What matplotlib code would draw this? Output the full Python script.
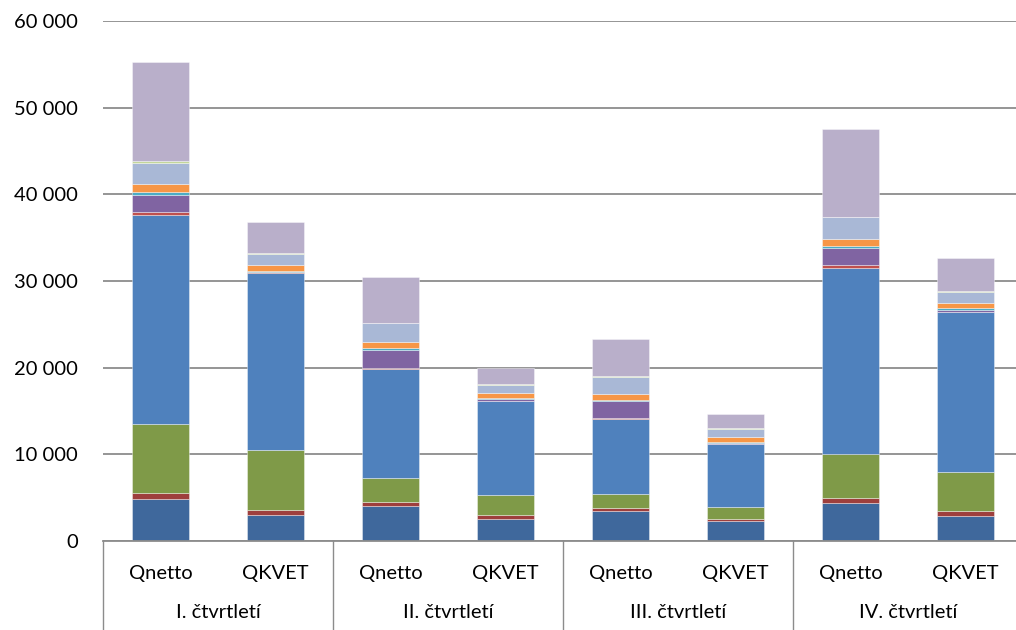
import matplotlib
matplotlib.use("Agg")
import matplotlib.pyplot as plt
import matplotlib.transforms as mtransforms
import numpy as np

quarters = ["I. čtvrtletí", "II. čtvrtletí", "III. čtvrtletí", "IV. čtvrtletí"]
bar_labels = ["Qnetto", "QKVET"] * 4

# segment values, bottom to top, per bar (Qnetto I, QKVET I, Qnetto II, ...)
s_darkblue   = [4850, 2960, 4080, 2570, 3420, 2270, 4420, 2880]
s_darkred    = [650, 620, 460, 430, 430, 300, 580, 620]
s_olive      = [7960, 6920, 2690, 2270, 1540, 1320, 5000, 4430]
s_blue       = [24110, 20460, 12620, 10880, 8650, 7270, 21540, 18460]
s_red        = [350, 50, 150, 60, 120, 50, 310, 60]
s_purple     = [1960, 60, 2080, 210, 1960, 130, 1920, 240]
s_teal       = [390, 130, 150, 60, 150, 100, 270, 140]
s_orange     = [880, 610, 770, 620, 690, 530, 770, 580]
s_lightblue  = [2500, 1270, 2120, 920, 2000, 970, 2540, 1350]
s_lightgreen = [200, 200, 80, 60, 80, 50, 80, 60]
s_lightpurp  = [11430, 3500, 5300, 1920, 4310, 1650, 10070, 3840]

series = [s_darkblue, s_darkred, s_olive, s_blue, s_red, s_purple, s_teal,
          s_orange, s_lightblue, s_lightgreen, s_lightpurp]
colors = ["#3F689C", "#9E3F3D", "#7F9A48", "#4F81BD", "#C0504D", "#8064A2",
          "#4BACC6", "#F79646", "#A9B8D6", "#C3D69B", "#B9AFCA"]

plt.rcParams['font.family'] = ['Lato', 'DejaVu Sans']
FS = 14.5

fig = plt.figure(figsize=(10.16, 6.30), dpi=100)
W, H = 1016, 630
left, right, top, bottom = 103, 1023, 21, 541
ax = fig.add_axes([left / W, 1 - bottom / H, (right - left) / W, (bottom - top) / H])

x = np.arange(len(bar_labels))
base = np.zeros(len(bar_labels))
for vals, c in zip(series, colors):
    ax.bar(x, vals, bottom=base, width=0.5, color=c, edgecolor=(1, 1, 1, 0.45),
           linewidth=0.6, zorder=3)
    base += np.array(vals)

ax.set_xlim(-0.5, len(bar_labels) - 0.5)
ax.set_ylim(0, 60000)
ax.set_yticks(np.arange(0, 60001, 10000))
ax.set_yticklabels([f"{v:,}".replace(",", " ") for v in range(0, 60001, 10000)],
                   fontsize=FS)
ax.yaxis.grid(True, color="#8C8C8C", linewidth=1.3, zorder=0)
ax.tick_params(axis='y', length=0, pad=18)
for sp in ["left", "right", "top"]:
    ax.spines[sp].set_visible(False)
ax.spines["bottom"].set_color("#8C8C8C")
ax.spines["bottom"].set_linewidth(1.3)
ax.spines["bottom"].set_zorder(4)

ax.set_xticks(x)
ax.set_xticklabels([])
ax.tick_params(axis='x', length=0)

axis_h = (bottom - top)
trans = mtransforms.blended_transform_factory(ax.transData, ax.transAxes)
for i, lab in enumerate(bar_labels):
    ax.text(x[i], -(573 - bottom) / axis_h, lab, transform=trans,
            ha="center", va="center", fontsize=FS)
for i, q in enumerate(quarters):
    ax.text(2 * i + 0.5, -(613 - bottom) / axis_h, q, transform=trans,
            ha="center", va="center", fontsize=FS)
y_bot = -(H - bottom) / axis_h
for b in range(5):
    xb = 2 * b - 0.5
    ax.plot([xb, xb], [0, y_bot], transform=trans, color="#8C8C8C",
            linewidth=1.0, clip_on=False)

fig.savefig("out.png", dpi=100)
